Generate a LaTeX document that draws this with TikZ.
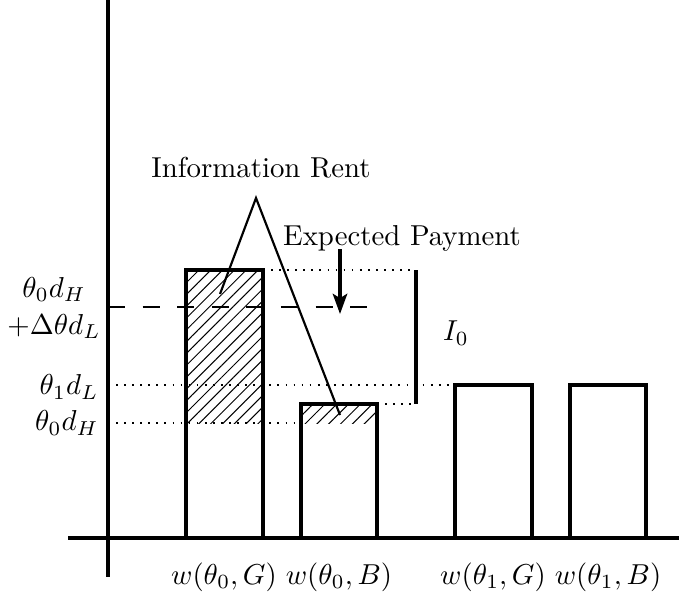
\documentclass[tikz,border=0pt]{standalone}
\usetikzlibrary{patterns.meta,arrows.meta}
\begin{document}
\begin{tikzpicture}[x=0.347pt,y=-0.347pt,
  thickline/.style={line width=1.2pt},
  bar/.style={thickline},
  hatch/.style={pattern={Lines[angle=45,distance=2.9pt,line width=0.35pt]}},
  guide/.style={line width=0.6pt,dash pattern=on 0.6pt off 2.2pt},
  pointer/.style={line width=0.75pt},
  lbl/.style={inner sep=0pt}]
\useasboundingbox (0,0) rectangle (679,599);

% hatched shares of the two theta_0 bars
\fill[hatch] (186,270) rectangle (263,423);
\fill[hatch] (301,404) rectangle (377,423);

% guide lines
\draw[guide] (108,385) -- (455,385);
\draw[guide] (108,423) -- (301,423);
\draw[guide] (263,270) -- (416,270);
\draw[guide] (377,404) -- (416,404);
\draw[line width=1pt,dash pattern=on 6pt off 6pt] (108,307) -- (378,307);

% bars
\draw[bar] (186,538) rectangle (263,270);
\draw[bar] (301,538) rectangle (377,404);
\draw[bar] (455,538) rectangle (532,385);
\draw[bar] (570,538) rectangle (646,385);

% axes
\draw[thickline] (108,0) -- (108,577);
\draw[thickline] (68,538) -- (679,538);

% bracket for I_0
\coordinate (btop) at (416,270);
\coordinate (bbot) at (416,404);
\draw[thickline] (btop) -- (bbot);
\node[lbl] (izero) at (456,333) {$I_0$};

% left axis labels
\node[lbl,align=center] (lvlA) at (54,308) {$\theta_0 d_H$\\[1pt]$+\Delta\theta d_L$};
\node[lbl,anchor=east] (lvlB) at (99,387) {$\theta_1 d_L$};
\node[lbl,anchor=east] (lvlC) at (99,423) {$\theta_0 d_H$};

% bar labels
\node[lbl] (wa) at (224,577) {$w(\theta_0,G)$};
\node[lbl] (wb) at (339,577) {$w(\theta_0,B)$};
\node[lbl] (wc) at (493,577) {$w(\theta_1,G)$};
\node[lbl] (wd) at (608,577) {$w(\theta_1,B)$};

% information rent callout
\node[lbl] (rent) at (261,168) {Information Rent};
\coordinate (apex) at (256,198);
\coordinate (rentA) at (220,294);
\coordinate (rentB) at (340,415);
\draw[pointer] (rentA) -- (apex) -- (rentB);

% expected payment arrow
\node[lbl] (pay) at (402,238) {Expected Payment};
\coordinate (payfrom) at (340,249);
\coordinate (payto) at (340,314);
\draw[thickline,-{Stealth[length=7pt,width=5pt,inset=1.5pt]}] (payfrom) -- (payto);
\end{tikzpicture}
\end{document}
